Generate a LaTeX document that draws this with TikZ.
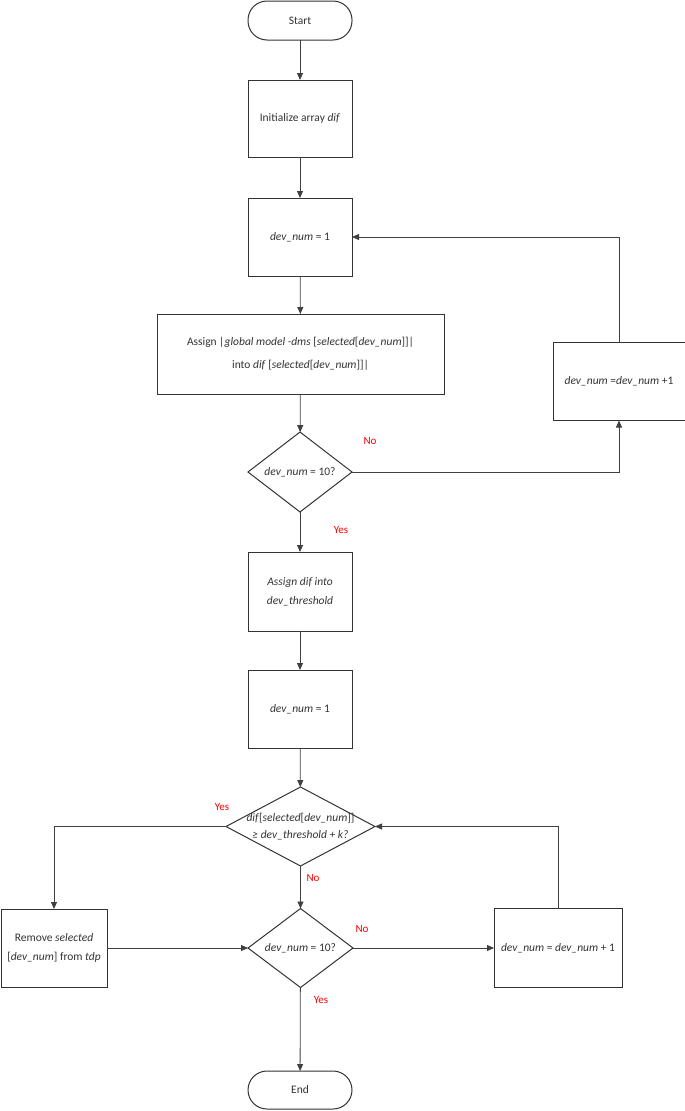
\documentclass[tikz,border=0pt]{standalone}
\usepackage{fontspec}
\setmainfont{Carlito}
\usetikzlibrary{arrows.meta,shapes.geometric}
\begin{document}
\begin{tikzpicture}[x=1pt,y=-1pt,inner sep=0pt,outer sep=0pt,
>={Triangle[length=7pt,width=6pt]},
link/.style={draw=black!75,line width=0.8pt},
every node/.style={font=\fontsize{11.5}{19}\selectfont,align=center,text=black!80},
procbox/.style={draw=black!80,rectangle,line width=1pt,minimum width=104pt,minimum height=78pt},
termbox/.style={draw=black!80,rectangle,rounded corners=19pt,line width=1pt,minimum width=104pt,minimum height=39pt},
decbox/.style={draw=black!80,diamond,line width=1pt,minimum width=105pt,minimum height=80pt},
answer/.style={text=red,font=\fontsize{11}{13}\selectfont}]
\useasboundingbox (0,0) rectangle (685,1111);
\draw (300,20.5) node[termbox] (start) {Start};
\draw (300,118.5) node[procbox,minimum height=77pt] (init) {Initialize array \textit{dif}};
\draw (300,237) node[procbox] (devone) {\textit{dev\_num} = 1};
\draw (300.5,354) node[procbox,minimum width=287pt,minimum height=80pt,font=\fontsize{11.5}{23}\selectfont] (assign)
  {Assign \textit{|global model -dms} [\textit{selected}[\textit{dev\_num}]]|\\into \textit{dif} [\textit{selected}[\textit{dev\_num}]]|};
\draw (300,472) node[decbox,minimum width=104pt] (testone) {};
\node (testonetext) at (testone) {\textit{dev\_num} = 10?};
\draw (619,381.5) node[procbox,minimum width=132pt] (incone) {\textit{dev\_num} =\textit{dev\_num} +1};
\draw (300,591.5) node[procbox,minimum height=79pt] (thresh) {\textit{Assign dif into}\\\textit{dev\_threshold}};
\draw (300,709) node[procbox] (devtwo) {\textit{dev\_num} = 1};
\draw (300.5,826.5) node[decbox,minimum width=149pt,minimum height=79pt] (check) {};
\node[font=\fontsize{11.5}{17}\selectfont] (checktext) at (check)
  {\textit{dif}[\textit{selected}[\textit{dev\_num}]]\\\textit{≥ dev\_threshold + k?}};
\draw (54,948) node[procbox,minimum width=106pt] (remove) {Remove \textit{selected}\\{}[\textit{dev\_num}] from \textit{tdp}};
\draw (300.5,948) node[decbox,minimum height=79pt] (testtwo) {};
\node (testtwotext) at (testtwo) {\textit{dev\_num} = 10?};
\draw (558,948) node[procbox,minimum width=128pt,minimum height=79pt] (inctwo) {\textit{dev\_num} = \textit{dev\_num} + 1};
\draw (300,1090) node[termbox,minimum height=38pt] (end) {End};
% answers
\node[answer] (noone) at (370,441) {No};
\node[answer] (yesone) at (341,530) {Yes};
\node[answer] (yestwo) at (222,807) {Yes};
\node[answer] (notwo) at (313,878) {No};
\node[answer] (nothree) at (362,929) {No};
\node[answer] (yesthree) at (321,1000) {Yes};
% connectors
\draw[link,->] (start) -- (init);
\draw[link,->] (init) -- (devone);
\draw[link,->] (devone) -- (assign);
\draw[link,->] (assign) -- (testone);
\draw[link,->] (testone.east) -| (incone.south);
\draw[link,->] (incone.north) |- (devone.east);
\draw[link,->] (testone) -- (thresh);
\draw[link,->] (thresh) -- (devtwo);
\draw[link,->] (devtwo) -- (check);
\draw[link,->] (check.west) -| (remove.north);
\draw[link,->] (check.south) -- (testtwo.north);
\draw[link,->] (remove.east) -- (testtwo.west);
\draw[link,->] (testtwo.east) -- (inctwo.west);
\draw[link,->] (inctwo.north) |- (check.east);
\draw[link,->] (testtwo) -- (end);
\end{tikzpicture}
\end{document}
